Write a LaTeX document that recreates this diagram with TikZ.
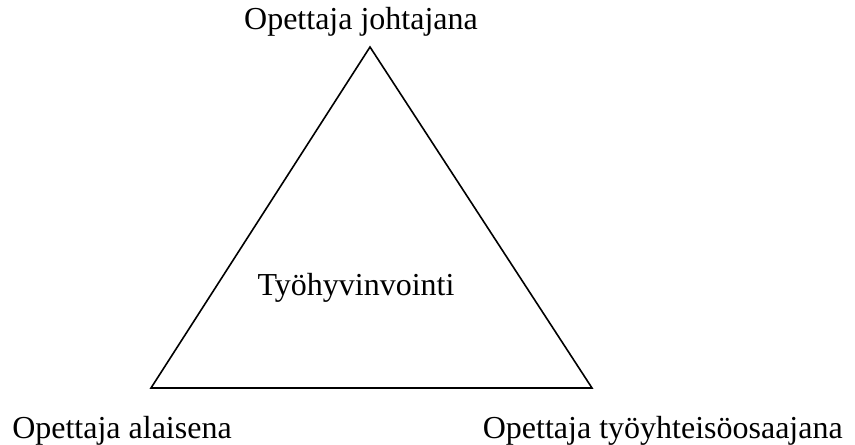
\documentclass[tikz,border=0pt]{standalone}
\usepackage{fontspec}
\setmainfont{Liberation Serif}
\begin{document}
\begin{tikzpicture}[x=0.75pt,y=-0.75pt,
  lbl/.style={inner sep=0pt,font=\fontsize{24}{28}\selectfont},
  edge/.style={draw=black,line width=1.2pt,line join=miter}]
\useasboundingbox (0,0) rectangle (855,445);
\coordinate (top) at (370,47);
\coordinate (bl) at (151,388);
\coordinate (br) at (592,388);
\draw[edge] (top) -- (bl) -- (br) -- cycle;
\node[lbl,anchor=base] (t) at (361,30) {Opettaja johtajana};
\node[lbl,anchor=base] (c) at (356,295) {Työhyvinvointi};
\node[lbl,anchor=base west] (l) at (12,438) {Opettaja alaisena};
\node[lbl,anchor=base east] (r) at (843,438) {Opettaja työyhteisöosaajana};
\end{tikzpicture}
\end{document}
